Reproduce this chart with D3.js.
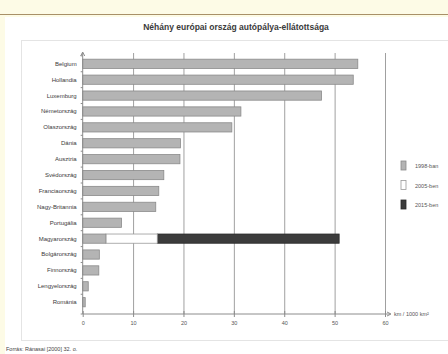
<!DOCTYPE html>
<html><head><meta charset="utf-8">
<script src="https://cdn.jsdelivr.net/npm/d3@7"></script>
<style>body{margin:0;background:#fdfbe6;}svg{display:block;}</style>
</head><body>
<script>
const categories = ["Belgium","Hollandia","Luxemburg","Németország","Olaszország","Dánia","Ausztria","Svédország","Franciaország","Nagy-Britannia","Portugália","Magyarország","Bolgárország","Finnország","Lengyelország","Románia"];
const values1998 = [54.6,53.7,47.4,31.4,29.6,19.4,19.3,16.1,15.1,14.5,7.7,4.6,3.3,3.2,1.1,0.5];
const values2005 = [null,null,null,null,null,null,null,null,null,null,null,14.8,null,null,null,null];
const values2015 = [null,null,null,null,null,null,null,null,null,null,null,50.9,null,null,null,null];
const xTicks = [0,10,20,30,40,50,60];
const legendLabels = ["1998-ban","2005-ben","2015-ben"];
const titleText = "Néhány európai ország autópálya-ellátottsága";
const unitText = "km / 1000 km²";
const sourceText = "Forrás: Ránasai [2000] 32. o.";

const W=448,H=354;
const svg=d3.select("body").append("svg").attr("width",W).attr("height",H);
const font="'Liberation Sans Narrow','Liberation Sans',Arial,sans-serif";
// frame
svg.append("rect").attr("x",0).attr("y",0).attr("width",W).attr("height",H).attr("fill","#fdfbe6");
svg.append("line").attr("x1",0).attr("x2",W).attr("y1",14.5).attr("y2",14.5).attr("stroke","#a89068").attr("stroke-width",1);
svg.append("rect").attr("x",5).attr("y",17).attr("width",W-5).attr("height",H-17).attr("fill","#ffffff");
svg.append("rect").attr("x",21.5).attr("y",40.5).attr("width",W-21).attr("height",300).attr("fill","none").attr("stroke","#e4e4e4");

svg.append("text").attr("x",236).attr("y",30).attr("text-anchor","middle").attr("font-family",font)
  .attr("font-size",8.5).attr("font-weight","bold").attr("fill","#3a3a3a").text(titleText);

const x=d3.scaleLinear().domain([0,60]).range([82.7,385]);
const y=d3.scaleBand().domain(categories).range([56,310]).paddingInner(0.42).paddingOuter(0.2);
const axisY=314;

// gridlines
svg.append("g").selectAll("line").data(xTicks.slice(1)).join("line")
  .attr("x1",d=>x(d)+0.5).attr("x2",d=>x(d)+0.5).attr("y1",53).attr("y2",axisY)
  .attr("stroke","#a0a0a0").attr("stroke-width",1);

// bars
const g=svg.append("g");
g.selectAll("rect.b15").data(categories.map((c,i)=>({c,v0:values2005[i],v:values2015[i]})).filter(d=>d.v!=null)).join("rect")
  .attr("x",d=>x(d.v0)).attr("y",d=>y(d.c)).attr("width",d=>x(d.v)-x(d.v0)).attr("height",y.bandwidth())
  .attr("fill","#3c3c3c").attr("stroke","#2a2a2a").attr("stroke-width",0.8);
g.selectAll("rect.b05").data(categories.map((c,i)=>({c,v0:values1998[i],v:values2005[i]})).filter(d=>d.v!=null)).join("rect")
  .attr("x",d=>x(d.v0)).attr("y",d=>y(d.c)).attr("width",d=>x(d.v)-x(d.v0)).attr("height",y.bandwidth())
  .attr("fill","#ffffff").attr("stroke","#9a9a9a").attr("stroke-width",0.8);
g.selectAll("rect.b98").data(categories.map((c,i)=>({c,v:values1998[i]}))).join("rect")
  .attr("x",x(0)).attr("y",d=>y(d.c)).attr("width",d=>x(d.v)-x(0)).attr("height",y.bandwidth())
  .attr("fill","#b4b4b4").attr("stroke","#8a8a8a").attr("stroke-width",0.8);

// x axis
const xa=svg.append("g").attr("transform",`translate(0,${axisY})`)
  .call(d3.axisBottom(x).tickValues(xTicks).tickSize(3).tickFormat(d3.format("d")));
xa.select(".domain").attr("stroke","#8c8c8c").attr("d",`M${x(0)},0H390`);
xa.selectAll(".tick line").attr("stroke","#8c8c8c").attr("y1",-3).attr("y2",3);
xa.selectAll(".tick text").attr("font-family",font).attr("font-size",5.5).attr("fill","#555").attr("dy","0.9em").attr("y",6);
svg.append("path").attr("d",`M387,${axisY-2}L391,${axisY}L387,${axisY+2}`).attr("fill","none").attr("stroke","#8c8c8c");
svg.append("text").attr("x",394).attr("y",axisY+2).attr("font-family",font).attr("font-size",5.5).attr("fill","#555").text(unitText);

// y axis
const ya=svg.append("g").attr("transform",`translate(${x(0)},0)`)
  .call(d3.axisLeft(y).tickSize(0).tickPadding(6));
ya.select(".domain").attr("stroke","#8c8c8c").attr("d",`M0,53V${axisY}`);
ya.selectAll(".tick text").attr("font-family",font).attr("font-size",6).attr("fill","#3a3a3a");
const bounds=categories.map(c=>y(c)-y.step()*y.paddingInner()/2);
svg.append("g").selectAll("line").data(bounds.concat([axisY])).join("line")
  .attr("x1",x(0)-2).attr("x2",x(0)).attr("y1",d=>d).attr("y2",d=>d).attr("stroke","#8c8c8c");
svg.append("path").attr("d",`M${x(0)-2},56L${x(0)},52L${x(0)+2},56`).attr("fill","none").attr("stroke","#8c8c8c");

// legend
const fills=["#b4b4b4","#ffffff","#3c3c3c"], strokes=["#8a8a8a","#9a9a9a","#2a2a2a"];
const lg=svg.append("g").selectAll("g").data(legendLabels).join("g")
  .attr("transform",(d,i)=>`translate(401,${161+i*19.5})`);
lg.append("rect").attr("width",5).attr("height",9).attr("fill",(d,i)=>fills[i]).attr("stroke",(d,i)=>strokes[i]).attr("stroke-width",0.8);
lg.append("text").attr("x",14).attr("y",7).attr("font-family",font).attr("font-size",5.5).attr("fill","#555").text(d=>d);

// source
svg.append("text").attr("x",6).attr("y",351).attr("font-family",font).attr("font-size",5.5).attr("fill","#444").text(sourceText);
</script>
</body></html>
